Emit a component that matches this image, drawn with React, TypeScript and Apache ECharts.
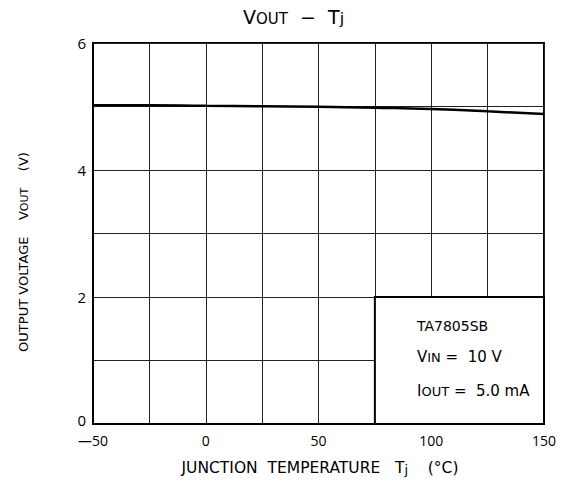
import React, { useEffect, useRef } from "react";
import * as echarts from "echarts";

const tempC = [-50, -25, 0, 25, 50, 75, 100, 125, 150];
const vout = [5.02, 5.02, 5.01, 5.005, 4.995, 4.98, 4.96, 4.925, 4.88];
const xTickLabels = [-50, 0, 50, 100, 150];
const yTickLabels = [0, 2, 4, 6];
const noteDevice = "TA7805SB";
const noteVin = "10 V";
const noteIout = "5.0 mA";
const noteArea = { x0: 75, x1: 150, y0: 0, y1: 2 };

const FONT = "'Open Sans', 'DejaVu Sans', sans-serif";
const WFONT = "'DejaVu Sans', sans-serif";

export default function App() {
  const ref = useRef<HTMLDivElement>(null);
  useEffect(() => {
    if (!ref.current) return;
    const chart = echarts.init(ref.current, null, { renderer: "svg" });
    const fmtX = (v: number) =>
      xTickLabels.includes(v) ? (v < 0 ? "\u2014" + Math.abs(v) : String(v)) : "";
    const fmtY = (v: number) =>
      yTickLabels.includes(v) ? (v === 0 ? "{z|0}" : String(v)) : "";
    const sub = (fs: number, lh: number) => ({ fontSize: fs, lineHeight: lh, verticalAlign: "bottom", fontFamily: WFONT });
    chart.setOption({
      animation: false,
      backgroundColor: "#fff",
      grid: {
        left: 93,
        right: 21,
        top: 43,
        bottom: 71,
        show: true,
        borderColor: "#000",
        borderWidth: 2,
        backgroundColor: "transparent",
      },
      xAxis: {
        type: "value",
        min: -50,
        max: 150,
        interval: 25,
        axisLine: { show: true, onZero: false, lineStyle: { color: "#000", width: 2 } },
        axisTick: { show: false },
        splitLine: { show: true, lineStyle: { color: "#222", width: 1 } },
        axisLabel: {
          formatter: fmtX,
          color: "#000",
          fontSize: 14,
          fontFamily: FONT,
          margin: 9,
        },
      },
      yAxis: {
        type: "value",
        min: 0,
        max: 6,
        interval: 1,
        axisLine: { show: true, onZero: false, lineStyle: { color: "#000", width: 2 } },
        axisTick: { show: false },
        splitLine: { show: true, lineStyle: { color: "#222", width: 1 } },
        axisLabel: {
          formatter: fmtY,
          color: "#000",
          fontSize: 15,
          fontFamily: FONT,
          margin: 7,
          rich: {
            z: { fontSize: 15, fontFamily: FONT, color: "#000", padding: [0, 0, 8, 0] },
          },
        },
      },
      series: [
        {
          type: "line",
          data: tempC.map((t, i) => [t, vout[i]]),
          showSymbol: false,
          smooth: true,
          lineStyle: { color: "#000", width: 2.5 },
          markArea: {
            silent: true,
            itemStyle: {
              color: "#fff",
              opacity: 1,
              borderColor: "#000",
              borderWidth: 2,
            },
            data: [
              [
                { xAxis: noteArea.x0, yAxis: noteArea.y0 },
                { xAxis: noteArea.x1, yAxis: noteArea.y1 },
              ],
            ],
          },
        },
      ],
      graphic: [
        {
          type: "text",
          z: 100,
          left: 243,
          top: 7,
          style: {
            text: "{m|V}{s|OUT}{m|  \u2212  T}{j|j}",
            fontFamily: WFONT,
            fill: "#000",
            rich: {
              m: sub(19, 24),
              s: sub(15, 13),
              j: sub(16, 11),
            },
          },
        },
        {
          type: "text",
          z: 100,
          x: 22,
          y: 252,
          rotation: Math.PI / 2,
          style: {
            text: "{m|OUTPUT VOLTAGE    V}{s|OUT}{m|    (V)}",
            align: "center",
            verticalAlign: "middle",
            fill: "#000",
            fontFamily: WFONT,
            rich: {
              m: sub(13, 16),
              s: sub(11, 10),
            },
          },
        },
        {
          type: "text",
          z: 100,
          x: 320,
          y: 467,
          style: {
            text: "{m|JUNCTION  TEMPERATURE   T}{s|j}{m|    (\u00B0C)}",
            align: "center",
            verticalAlign: "middle",
            fill: "#000",
            fontFamily: WFONT,
            rich: {
              m: sub(15.5, 18),
              s: sub(13, 12),
            },
          },
        },
        {
          type: "text",
          z: 100,
          left: 417,
          top: 319,
          style: { text: noteDevice, fontSize: 14, fontFamily: WFONT, fill: "#000" },
        },
        {
          type: "text",
          z: 100,
          left: 417,
          top: 349,
          style: {
            text: "{m|V}{s|IN}{m| =  " + noteVin + "}",
            fill: "#000",
            fontFamily: WFONT,
            rich: {
              m: sub(15, 19),
              s: sub(13, 12),
            },
          },
        },
        {
          type: "text",
          z: 100,
          left: 417,
          top: 383,
          style: {
            text: "{m|I}{s|OUT}{m| =  " + noteIout + "}",
            fill: "#000",
            fontFamily: WFONT,
            rich: {
              m: sub(15, 19),
              s: sub(13, 12),
            },
          },
        },
      ],
    });
    return () => chart.dispose();
  }, []);
  return (
    <div
      ref={ref}
      style={{ position: "fixed", left: 0, top: 0, width: 565, height: 495, background: "#fff" }}
    />
  );
}
